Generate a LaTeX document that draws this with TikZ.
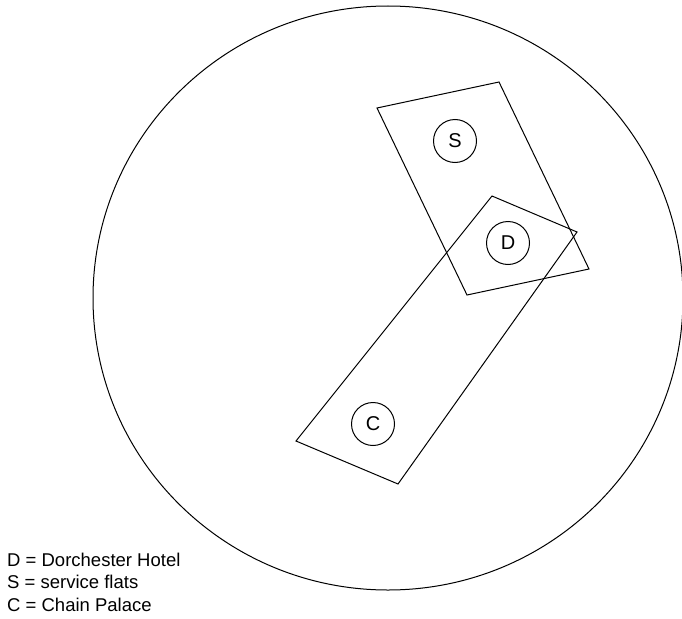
\documentclass[tikz,border=0pt]{standalone}
\usepackage{fontspec}
\setmainfont{Liberation Sans}
\usepackage{tikz}
\usetikzlibrary{positioning}

\tikzset{
  site/.style={draw, circle, line width=1pt, minimum size=43pt, inner sep=0pt, font=\fontsize{20}{24}\selectfont},
  zone/.style={line width=1pt, line join=miter},
  legend/.style={anchor=base west, inner sep=0pt, font=\fontsize{18.5}{22}\selectfont}
}

\begin{document}
\begin{tikzpicture}[x=1pt, y=-1pt]
        \useasboundingbox (0,0) rectangle (682,618);

        % Outer area
        \draw[line width=1pt] (388,298) ellipse [x radius=295, y radius=292];

        % Zones
        \draw[zone] (377,108) -- (499,82) -- (589,269) -- (467,295) -- cycle;
        \draw[zone] (492,196) -- (577,232) -- (398,484) -- (296,441) -- cycle;

        % Sites
        \foreach \n/\x/\y in {S/455/141, D/508/243, C/373/424} {
          \node[site] (\n) at (\x,\y) {\n};
        }

        % Key
        \node[legend] (keyD) at (7,566) {D = Dorchester Hotel};
        \node[legend, below=22.5pt of keyD.base west, anchor=base west] (keyS) {S = service flats};
        \node[legend, below=22.5pt of keyS.base west, anchor=base west] (keyC) {C = Chain Palace};
      \end{tikzpicture}
\end{document}
